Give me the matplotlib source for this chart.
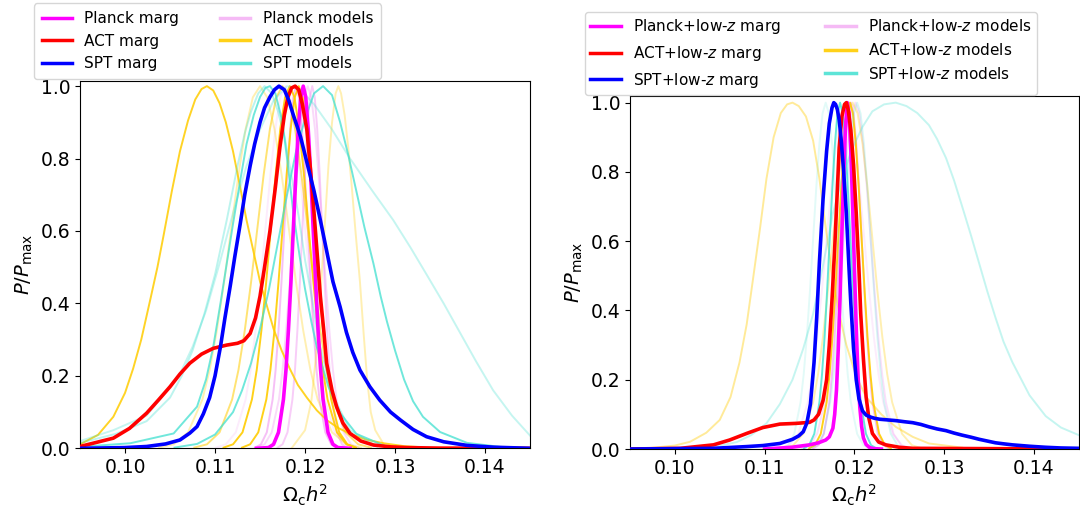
import matplotlib
matplotlib.use('Agg')
import matplotlib.pyplot as plt
from matplotlib.lines import Line2D

# relative heights (same ordering as each x list)
bell_y = [0.002, 0.011, 0.044, 0.135, 0.216, 0.325, 0.458, 0.607, 0.755, 0.882, 0.969, 1.0,
          0.969, 0.882, 0.755, 0.607, 0.458, 0.325, 0.216, 0.135, 0.044, 0.011, 0.002]

# ---------------- left panel: CMB alone ----------------
planck_marg_x = [0.1146, 0.11595, 0.1165, 0.11705, 0.1176, 0.11788, 0.11815, 0.11843, 0.1187, 0.11898, 0.11925,
                 0.11953, 0.1198, 0.12008, 0.12035, 0.12063, 0.1209, 0.12118, 0.12145, 0.12173, 0.1220, 0.12255,
                 0.1231, 0.12365, 0.1250]
planck_marg_y = [0.0] + bell_y + [0.0]

act_marg_x = [0.0950, 0.0987, 0.1005, 0.1024, 0.1037, 0.1050, 0.1061, 0.1072, 0.1085, 0.1098, 0.1113, 0.1125,
              0.1132, 0.1139, 0.1145, 0.1150, 0.1155, 0.1161, 0.1167, 0.1172, 0.1177, 0.1181, 0.1185, 0.1189,
              0.1193, 0.1197, 0.1202, 0.1206, 0.1210, 0.1214, 0.1217, 0.1221, 0.1224, 0.1230, 0.1235, 0.1242,
              0.1250, 0.1262, 0.1276, 0.1295, 0.1313, 0.1350, 0.1450]
act_marg_y = [0.005, 0.028, 0.055, 0.097, 0.133, 0.17, 0.205, 0.235, 0.26, 0.276, 0.285, 0.29,
              0.297, 0.317, 0.36, 0.42, 0.50, 0.60, 0.72, 0.83, 0.92, 0.97, 0.995, 1.00,
              0.99, 0.95, 0.88, 0.77, 0.65, 0.52, 0.42, 0.32, 0.235, 0.16, 0.115, 0.07,
              0.041, 0.02, 0.009, 0.004, 0.002, 0.0005, 0.0]

spt_marg_x = [0.0950, 0.1000, 0.1024, 0.1045, 0.1061, 0.1072, 0.1080, 0.1087, 0.1094, 0.1100, 0.1106, 0.1111,
              0.1117, 0.1122, 0.1128, 0.1133, 0.1139, 0.1144, 0.1150, 0.1155, 0.1161, 0.1166, 0.1171, 0.1177,
              0.1182, 0.1187, 0.1195, 0.1202, 0.1210, 0.1217, 0.1224, 0.1231, 0.1239, 0.1246, 0.1253, 0.1261,
              0.1272, 0.1283, 0.1295, 0.1306, 0.1320, 0.1335, 0.1354, 0.1380, 0.1410, 0.1450]
spt_marg_y = [0.0, 0.002, 0.005, 0.012, 0.023, 0.042, 0.06, 0.095, 0.14, 0.20, 0.28, 0.36,
              0.45, 0.53, 0.62, 0.70, 0.78, 0.84, 0.90, 0.94, 0.97, 0.99, 1.00, 0.99,
              0.96, 0.92, 0.86, 0.79, 0.71, 0.63, 0.545, 0.46, 0.39, 0.32, 0.265, 0.216,
              0.17, 0.133, 0.10, 0.078, 0.052, 0.032, 0.018, 0.008, 0.003, 0.0]

planck_models_x = [
    [0.11445, 0.1151, 0.11575, 0.1164, 0.11673, 0.11705, 0.11738, 0.1177, 0.11803, 0.11835, 0.11868, 0.1190,
     0.11933, 0.11965, 0.11998, 0.1203, 0.12063, 0.12095, 0.12128, 0.1216, 0.12225, 0.1229, 0.12355],
    [0.1147, 0.1155, 0.1163, 0.1171, 0.1175, 0.1179, 0.1183, 0.1187, 0.1191, 0.1195, 0.1199, 0.1203,
     0.1207, 0.1211, 0.1215, 0.1219, 0.1223, 0.1227, 0.1231, 0.1235, 0.1243, 0.1251, 0.1259],
    [0.1101, 0.1112, 0.1123, 0.1134, 0.11395, 0.1145, 0.11505, 0.1156, 0.11615, 0.1167, 0.11725, 0.1178,
     0.11835, 0.1189, 0.11945, 0.1200, 0.12055, 0.1211, 0.12165, 0.1222, 0.1233, 0.1244, 0.1255],
    [0.11695, 0.1175, 0.11805, 0.1186, 0.11888, 0.11915, 0.11943, 0.1197, 0.11998, 0.12025, 0.12053, 0.1208,
     0.12108, 0.12135, 0.12163, 0.1219, 0.12218, 0.12245, 0.12273, 0.1230, 0.12355, 0.1241, 0.12465],
]
planck_models_y = [bell_y, bell_y, bell_y, bell_y]
planck_models_alpha = [0.5, 0.3, 0.15, 0.4]

act_models_x = [
    [0.0950, 0.0970, 0.0987, 0.1000, 0.1009, 0.1018, 0.1028, 0.1036, 0.1043, 0.1052, 0.1061, 0.1070, 0.1078,
     0.1085, 0.1091, 0.1098, 0.1105, 0.1112, 0.1120, 0.1128, 0.1135, 0.1143, 0.1150, 0.1158, 0.1165, 0.1174,
     0.1183, 0.1192, 0.1202, 0.1213, 0.1224, 0.1237, 0.1250, 0.1268, 0.1287, 0.1310, 0.1330],
    [0.1185, 0.1200, 0.1207, 0.1212, 0.1217, 0.1222, 0.1226, 0.1230, 0.1234, 0.1237, 0.1240, 0.1244, 0.1248,
     0.1252, 0.1256, 0.1261, 0.1265, 0.1269, 0.1273, 0.1278, 0.1290],
    [0.1038, 0.1054, 0.1070, 0.1086, 0.1094, 0.1102, 0.1110, 0.1118, 0.1126, 0.1134, 0.1142, 0.1150,
     0.1158, 0.1166, 0.1174, 0.1182, 0.1190, 0.1198, 0.1206, 0.1214, 0.1230, 0.1246, 0.1262],
    [0.11095, 0.1120, 0.11305, 0.1141, 0.11463, 0.11515, 0.11568, 0.1162, 0.11673, 0.11725, 0.11778, 0.1183,
     0.11883, 0.11935, 0.11988, 0.1204, 0.12093, 0.12145, 0.12198, 0.1225, 0.12355, 0.1246, 0.12565],
    [0.1130, 0.1139, 0.1148, 0.1157, 0.11615, 0.1166, 0.11705, 0.1175, 0.11795, 0.1184, 0.11885, 0.1193,
     0.11975, 0.1202, 0.12065, 0.1211, 0.12155, 0.1220, 0.12245, 0.1229, 0.1238, 0.1247, 0.1256],
    [0.1077, 0.1091, 0.1105, 0.1119, 0.1126, 0.1133, 0.1140, 0.1147, 0.1154, 0.1161, 0.1168, 0.1175,
     0.1182, 0.1189, 0.1196, 0.1203, 0.1210, 0.1217, 0.1224, 0.1231, 0.1245, 0.1259, 0.1273],
]
act_models_y = [
    [0.011, 0.037, 0.087, 0.153, 0.22, 0.30, 0.41, 0.50, 0.59, 0.71, 0.82, 0.905, 0.963,
     0.992, 1.0, 0.988, 0.953, 0.90, 0.82, 0.72, 0.63, 0.54, 0.46, 0.39, 0.33, 0.27,
     0.22, 0.175, 0.14, 0.105, 0.078, 0.056, 0.04, 0.024, 0.014, 0.006, 0.003],
    [0.0, 0.05, 0.13, 0.25, 0.42, 0.62, 0.78, 0.90, 0.98, 1.0, 0.98, 0.92, 0.83,
     0.72, 0.60, 0.46, 0.32, 0.19, 0.10, 0.05, 0.0],
    bell_y, bell_y, bell_y, bell_y,
]
act_models_alpha = [0.85, 0.3, 0.3, 0.9, 0.9, 0.55]

spt_models_x = [
    [0.1055, 0.1080, 0.1100, 0.1120, 0.1130, 0.1140, 0.1150, 0.1160, 0.1170, 0.1180, 0.1190, 0.1200, 0.1210,
     0.1220, 0.1230, 0.1239, 0.1248, 0.1257, 0.1266, 0.1276, 0.1284, 0.1291, 0.1300, 0.1310, 0.1320, 0.1331,
     0.1350, 0.1380, 0.1420],
    [0.0950, 0.1006, 0.1054, 0.1080, 0.1090, 0.1098, 0.1106, 0.1113, 0.1120, 0.1128, 0.1135, 0.1143, 0.1150,
     0.1156, 0.1161, 0.1167, 0.1175, 0.1181, 0.1187, 0.1194, 0.1200, 0.1207, 0.1213, 0.1220, 0.1226, 0.1239,
     0.1257, 0.1290],
    [0.0950, 0.0987, 0.1024, 0.1060, 0.1075, 0.1090, 0.1105, 0.1120, 0.1135, 0.1150, 0.1165, 0.1180, 0.1195,
     0.1210, 0.1230, 0.1250, 0.1275, 0.1298, 0.1317, 0.1335, 0.1354, 0.1372, 0.1390, 0.1409, 0.1430, 0.1450],
    [0.0950, 0.0990, 0.1024, 0.1050, 0.1063, 0.1075, 0.1088, 0.1100, 0.1113, 0.1125, 0.1133, 0.1140, 0.1148,
     0.1155, 0.1163, 0.1170, 0.1178, 0.1185, 0.1193, 0.1200, 0.1208, 0.1215, 0.1230, 0.1250, 0.1280],
]
spt_models_y = [
    [0.002, 0.012, 0.038, 0.10, 0.16, 0.235, 0.33, 0.44, 0.57, 0.70, 0.82, 0.91, 0.98,
     1.0, 0.975, 0.90, 0.81, 0.71, 0.61, 0.51, 0.42, 0.35, 0.27, 0.19, 0.13, 0.087,
     0.045, 0.015, 0.003],
    [0.004, 0.014, 0.041, 0.115, 0.19, 0.28, 0.40, 0.51, 0.62, 0.74, 0.84, 0.92, 0.97,
     0.995, 1.0, 0.98, 0.90, 0.78, 0.65, 0.53, 0.44, 0.35, 0.28, 0.22, 0.17, 0.097,
     0.04, 0.005],
    [0.020, 0.050, 0.090, 0.20, 0.28, 0.38, 0.51, 0.65, 0.78, 0.88, 0.96, 1.00, 0.99,
     0.95, 0.88, 0.80, 0.71, 0.63, 0.555, 0.48, 0.40, 0.32, 0.24, 0.16, 0.09, 0.035],
    [0.015, 0.04, 0.075, 0.14, 0.20, 0.27, 0.37, 0.48, 0.63, 0.78, 0.87, 0.93, 0.98,
     1.0, 0.98, 0.93, 0.85, 0.75, 0.64, 0.52, 0.41, 0.30, 0.15, 0.05, 0.005],
]
spt_models_alpha = [0.75, 0.75, 0.3, 0.35]

# ---------------- right panel: CMB + low-z ----------------
planck_lz_marg_x = [0.1100, 0.1130, 0.1150, 0.1160, 0.1168, 0.1172, 0.1176, 0.1178, 0.1180, 0.1182, 0.1184, 0.1186,
                    0.1188, 0.1190, 0.1192, 0.1194, 0.1196, 0.1198, 0.1200, 0.1202, 0.1204, 0.1206, 0.1208, 0.1210,
                    0.1213, 0.1217, 0.1222, 0.1230]
planck_lz_marg_y = [0.0, 0.005, 0.012, 0.018, 0.026, 0.035, 0.06, 0.10, 0.17, 0.29, 0.44, 0.62,
                    0.79, 0.93, 1.0, 0.97, 0.86, 0.70, 0.52, 0.35, 0.21, 0.12, 0.065, 0.032,
                    0.013, 0.004, 0.001, 0.0]

act_lz_marg_x = [0.0950, 0.1006, 0.1043, 0.1061, 0.1080, 0.1098, 0.1117, 0.1135, 0.1150, 0.1155, 0.1160, 0.1165,
                 0.1169, 0.1172, 0.1175, 0.1178, 0.1181, 0.1183, 0.1186, 0.1189, 0.1191, 0.1193, 0.1196, 0.1199,
                 0.1202, 0.1205, 0.1207, 0.1210, 0.1213, 0.1216, 0.1220, 0.1227, 0.1235, 0.1250, 0.1265, 0.1450]
act_lz_marg_y = [0.0, 0.002, 0.012, 0.026, 0.045, 0.062, 0.072, 0.074, 0.077, 0.084, 0.10, 0.14,
                 0.20, 0.30, 0.43, 0.58, 0.75, 0.87, 0.96, 0.995, 1.00, 0.98, 0.92, 0.82,
                 0.68, 0.52, 0.39, 0.26, 0.15, 0.09, 0.045, 0.02, 0.012, 0.005, 0.002, 0.0]

spt_lz_marg_x = [0.0950, 0.1043, 0.1080, 0.1098, 0.1117, 0.1131, 0.1138, 0.1143, 0.1147, 0.1151, 0.1155, 0.1158,
                 0.1161, 0.1165, 0.1169, 0.1172, 0.1175, 0.1177, 0.1179, 0.1181, 0.1183, 0.1185, 0.1188, 0.1191,
                 0.1194, 0.1196, 0.1199, 0.1202, 0.1205, 0.1209, 0.1213, 0.1217, 0.1222, 0.1228, 0.1237, 0.1246,
                 0.1255, 0.1265, 0.1274, 0.1283, 0.1292, 0.1302, 0.1311, 0.1320, 0.1330, 0.1339, 0.1348, 0.1357,
                 0.1366, 0.1376, 0.1395, 0.1413, 0.1430, 0.1450]
spt_lz_marg_y = [0.0, 0.002, 0.007, 0.010, 0.016, 0.028, 0.038, 0.05, 0.075, 0.13, 0.25, 0.38,
                 0.54, 0.72, 0.86, 0.94, 0.985, 1.00, 0.995, 0.98, 0.95, 0.90, 0.80, 0.68,
                 0.52, 0.42, 0.29, 0.20, 0.145, 0.11, 0.098, 0.093, 0.089, 0.086, 0.084, 0.082,
                 0.079, 0.076, 0.071, 0.064, 0.058, 0.053, 0.046, 0.040, 0.034, 0.028, 0.023, 0.018,
                 0.015, 0.012, 0.008, 0.005, 0.003, 0.002]

planck_lz_models_x = [
    [0.1154, 0.1160, 0.1166, 0.1172, 0.1175, 0.1178, 0.1181, 0.1184, 0.1187, 0.1190, 0.1193, 0.1196,
     0.1199, 0.1202, 0.1205, 0.1208, 0.1211, 0.1214, 0.1217, 0.1220, 0.1226, 0.1232, 0.1238],
    [0.11415, 0.1150, 0.11585, 0.1167, 0.11713, 0.11755, 0.11798, 0.1184, 0.11883, 0.11925, 0.11968, 0.1201,
     0.12053, 0.12095, 0.12138, 0.1218, 0.12223, 0.12265, 0.12308, 0.1235, 0.12435, 0.1252, 0.12605],
    [0.11165, 0.1127, 0.11375, 0.1148, 0.11533, 0.11585, 0.11638, 0.1169, 0.11743, 0.11795, 0.11848, 0.1190,
     0.11953, 0.12005, 0.12058, 0.1211, 0.12163, 0.12215, 0.12268, 0.1232, 0.12425, 0.1253, 0.12635],
]
planck_lz_models_y = [bell_y, bell_y, bell_y]
planck_lz_models_alpha = [0.5, 0.25, 0.15]

act_lz_models_x = [
    [0.0969, 0.1000, 0.1017, 0.1035, 0.1050, 0.1062, 0.1072, 0.1080, 0.1087, 0.1095, 0.1102, 0.1110, 0.1118,
     0.1125, 0.1131, 0.1138, 0.1146, 0.1154, 0.1161, 0.1168, 0.1176, 0.1184, 0.1191, 0.1202, 0.1213, 0.1230,
     0.1246, 0.1265, 0.1283, 0.1320],
    [0.11495, 0.1156, 0.11625, 0.1169, 0.11723, 0.11755, 0.11788, 0.1182, 0.11853, 0.11885, 0.11918, 0.1195,
     0.11983, 0.12015, 0.12048, 0.1208, 0.12113, 0.12145, 0.12178, 0.1221, 0.12275, 0.1234, 0.12405],
    [0.1121, 0.1132, 0.1143, 0.1154, 0.11595, 0.1165, 0.11705, 0.1176, 0.11815, 0.1187, 0.11925, 0.1198,
     0.12035, 0.1209, 0.12145, 0.1220, 0.12255, 0.1231, 0.12365, 0.1242, 0.1253, 0.1264, 0.1275],
]
act_lz_models_y = [
    [0.002, 0.010, 0.021, 0.047, 0.084, 0.15, 0.25, 0.36, 0.49, 0.64, 0.78, 0.90, 0.97,
     0.995, 1.00, 0.99, 0.96, 0.89, 0.78, 0.64, 0.49, 0.38, 0.30, 0.21, 0.15, 0.10,
     0.064, 0.035, 0.016, 0.004],
    bell_y, bell_y,
]
act_lz_models_alpha = [0.4, 0.9, 0.3]

spt_lz_models_x = [
    [0.1000, 0.1040, 0.1069, 0.1085, 0.1102, 0.1117, 0.1131, 0.1143, 0.1154, 0.1165, 0.1176, 0.1187, 0.1198,
     0.1209, 0.1220, 0.1233, 0.1246, 0.1258, 0.1270, 0.1283, 0.1292, 0.1302, 0.1311, 0.1320, 0.1330, 0.1339,
     0.1348, 0.1357, 0.1366, 0.1376, 0.1395, 0.1413, 0.1430, 0.1450],
    [0.11438, 0.11495, 0.11553, 0.1161, 0.11639, 0.11668, 0.11696, 0.11725, 0.11754, 0.11783, 0.11811, 0.1184,
     0.11869, 0.11898, 0.11926, 0.11955, 0.11984, 0.12013, 0.12041, 0.1207, 0.12128, 0.12185, 0.12243],
    [0.1119, 0.1126, 0.1133, 0.1140, 0.11435, 0.1147, 0.11505, 0.1154, 0.11575, 0.1161, 0.11645, 0.1168,
     0.11715, 0.1175, 0.11785, 0.1182, 0.11855, 0.1189, 0.11925, 0.1196, 0.1203, 0.1210, 0.1217],
    [0.11505, 0.1158, 0.11655, 0.1173, 0.11768, 0.11805, 0.11843, 0.1188, 0.11918, 0.11955, 0.11993, 0.1203,
     0.12068, 0.12105, 0.12143, 0.1218, 0.12218, 0.12255, 0.12293, 0.1233, 0.12405, 0.1248, 0.12555],
]
spt_lz_models_y = [
    [0.0, 0.004, 0.02, 0.04, 0.074, 0.13, 0.20, 0.29, 0.39, 0.53, 0.68, 0.79, 0.87,
     0.93, 0.975, 0.995, 1.00, 0.99, 0.97, 0.935, 0.895, 0.84, 0.775, 0.70, 0.615, 0.535,
     0.455, 0.38, 0.31, 0.25, 0.155, 0.095, 0.062, 0.040],
    bell_y, bell_y, bell_y,
]
spt_lz_models_alpha = [0.3, 0.8, 0.15, 0.2]

left_labels = ['Planck marg', 'ACT marg', 'SPT marg', 'Planck models', 'ACT models', 'SPT models']
right_labels = ['Planck+low-$z$ marg', 'ACT+low-$z$ marg', 'SPT+low-$z$ marg',
                'Planck+low-$z$ models', 'ACT+low-$z$ models', 'SPT+low-$z$ models']

c_planck, c_act, c_spt = 'magenta', 'red', 'blue'
c_planck_m, c_act_m, c_spt_m = 'violet', '#ffcc00', 'turquoise'

plt.rcParams['font.family'] = 'DejaVu Sans'
plt.rcParams['xtick.labelsize'] = 13.5
plt.rcParams['ytick.labelsize'] = 13.5
plt.rcParams['axes.labelsize'] = 14

fig = plt.figure(figsize=(10.8, 5.11), dpi=100)
ax1 = fig.add_axes([0.0741, 0.1227, 0.4167, 0.7194])
ax2 = fig.add_axes([0.5833, 0.1213, 0.4157, 0.6914])


def draw_panel(ax, marg, models, labels, ytop, anchor, colspace, bpad):
    # thin model curves first, then the marginalised ones on top
    for (xs, ys, alphas), col in zip(models, [c_planck_m, c_act_m, c_spt_m]):
        for x, y, a in zip(xs, ys, alphas):
            ax.plot(x, y, color=col, lw=1.4, alpha=a, zorder=1)
    for (x, y), col in zip(marg, [c_planck, c_act, c_spt]):
        ax.plot(x, y, color=col, lw=2.6, zorder=3)

    ax.set_xlim(0.095, 0.145)
    ax.set_ylim(0, ytop)
    ax.set_xticks([0.10, 0.11, 0.12, 0.13, 0.14])
    ax.set_xticklabels(['0.10', '0.11', '0.12', '0.13', '0.14'])
    ax.set_yticks([0.0, 0.2, 0.4, 0.6, 0.8, 1.0])
    ax.set_xlabel(r'$\Omega_{\rm c}h^2$')
    ax.set_ylabel(r'$P/P_{\rm max}$')

    handles = [Line2D([], [], color=c_planck, lw=2.5),
               Line2D([], [], color=c_act, lw=2.5),
               Line2D([], [], color=c_spt, lw=2.5),
               Line2D([], [], color=c_planck_m, lw=2.5, alpha=0.55),
               Line2D([], [], color=c_act_m, lw=2.5, alpha=0.9),
               Line2D([], [], color=c_spt_m, lw=2.5, alpha=0.85)]
    fig.legend(handles, labels, ncol=2, fontsize=11, loc='lower left',
               bbox_to_anchor=anchor, bbox_transform=fig.transFigure,
               borderaxespad=0, columnspacing=colspace, borderpad=bpad)


draw_panel(ax1,
           [(planck_marg_x, planck_marg_y), (act_marg_x, act_marg_y), (spt_marg_x, spt_marg_y)],
           [(planck_models_x, planck_models_y, planck_models_alpha),
            (act_models_x, act_models_y, act_models_alpha),
            (spt_models_x, spt_models_y, spt_models_alpha)],
           left_labels, 1.015, (0.0315, 0.8454), 2.65, 0.5)

draw_panel(ax2,
           [(planck_lz_marg_x, planck_lz_marg_y), (act_lz_marg_x, act_lz_marg_y), (spt_lz_marg_x, spt_lz_marg_y)],
           [(planck_lz_models_x, planck_lz_models_y, planck_lz_models_alpha),
            (act_lz_models_x, act_lz_models_y, act_lz_models_alpha),
            (spt_lz_models_x, spt_lz_models_y, spt_lz_models_alpha)],
           right_labels, 1.02, (0.5417, 0.8141), 2.9, 0.35)

fig.savefig('out.png', dpi=100)
